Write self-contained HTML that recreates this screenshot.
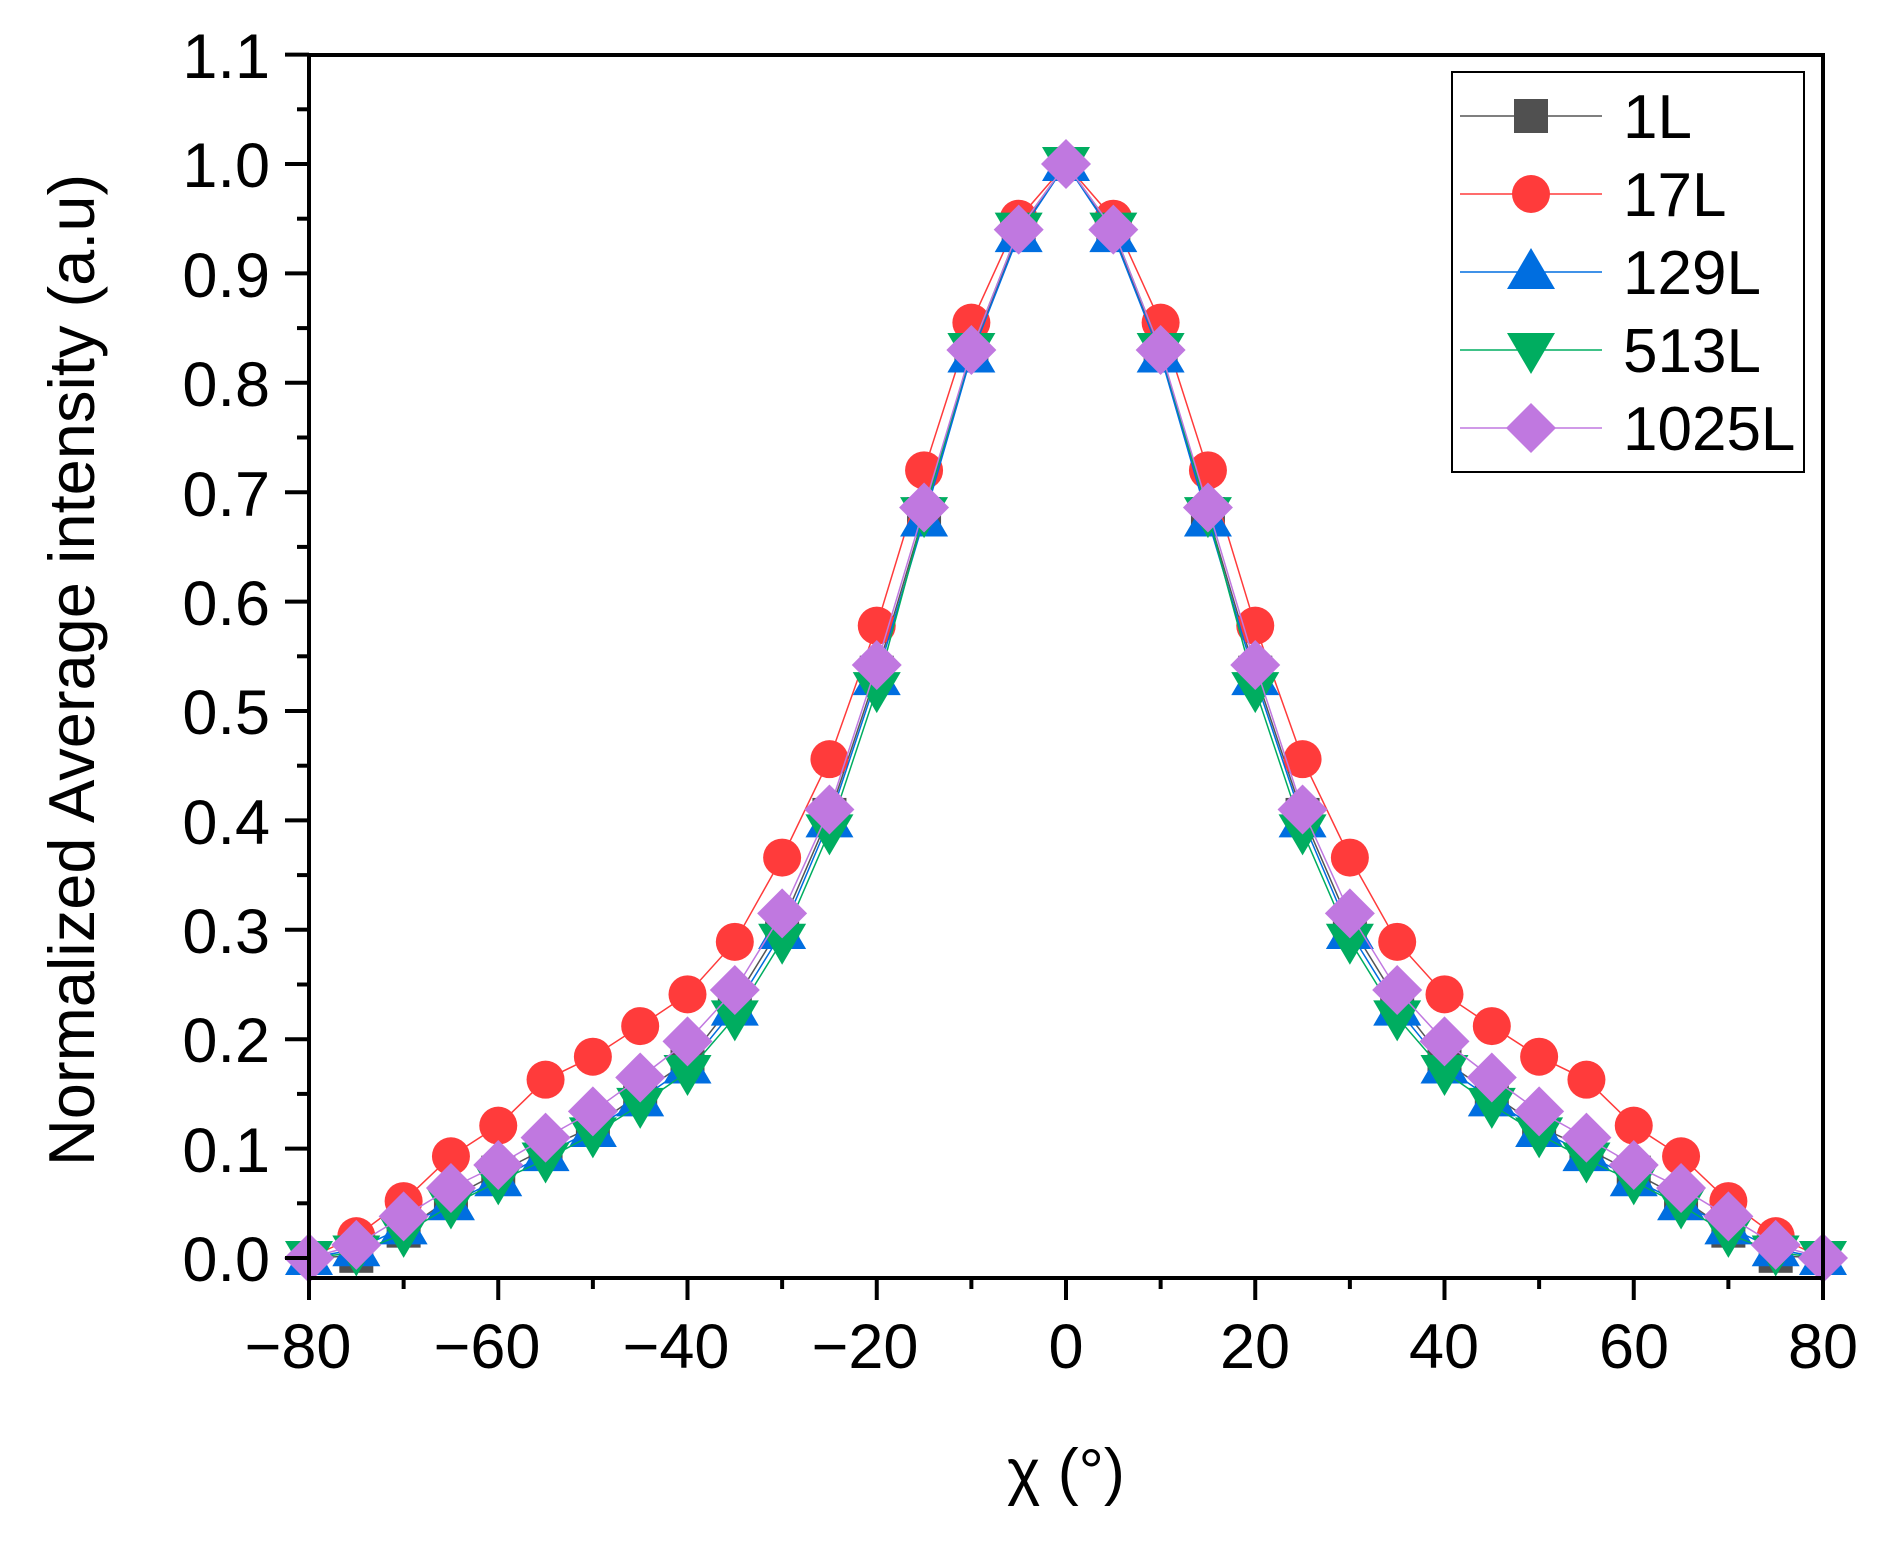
<!DOCTYPE html>
<html><head><meta charset="utf-8"><style>
html,body{margin:0;padding:0;background:#fff}
svg{display:block}
text{font-family:"Liberation Sans",Arial,sans-serif;fill:#000}
</style></head><body>
<svg id="s" width="1883" height="1541" viewBox="0 0 1883 1541" xmlns="http://www.w3.org/2000/svg">
<g id="data"></g>
<rect x="309" y="55" width="1514" height="1223" fill="none" stroke="#000" stroke-width="4"/>
<g id="ticks" stroke="#000" stroke-width="4"></g>
<g font-size="63" text-anchor="end">
<text x="270" y="78">1.1</text>
<text x="270" y="187">1.0</text>
<text x="270" y="297">0.9</text>
<text x="270" y="406">0.8</text>
<text x="270" y="516">0.7</text>
<text x="270" y="625">0.6</text>
<text x="270" y="734">0.5</text>
<text x="270" y="844">0.4</text>
<text x="270" y="953">0.3</text>
<text x="270" y="1062">0.2</text>
<text x="270" y="1172">0.1</text>
<text x="270" y="1281">0.0</text>
</g>
<g font-size="63" text-anchor="middle">
<text x="298" y="1368">−80</text>
<text x="487" y="1368">−60</text>
<text x="676" y="1368">−40</text>
<text x="865" y="1368">−20</text>
<text x="1066" y="1368">0</text>
<text x="1255" y="1368">20</text>
<text x="1444" y="1368">40</text>
<text x="1634" y="1368">60</text>
<text x="1823" y="1368">80</text>
</g>
<text x="1066" y="1493" font-size="63" text-anchor="middle">χ (°)</text>
<text transform="translate(94,670) rotate(-90)" font-size="65" text-anchor="middle">Normalized  Average intensity (a.u)</text>
<rect x="1452" y="72" width="352" height="400" fill="#fff" stroke="#000" stroke-width="2"/>
<g id="leg"></g>
<g font-size="62">
<text x="1623" y="138">1L</text>
<text x="1623" y="216">17L</text>
<text x="1623" y="294">129L</text>
<text x="1623" y="372">513L</text>
<text x="1623" y="450">1025L</text>
</g>
</svg>
<script>
var NS="http://www.w3.org/2000/svg";
function X(v){return 309+(v+80)*1514/160;}
function Y(v){return 1258-v*1094;}
function el(t,a,p){var e=document.createElementNS(NS,t);for(var k in a)e.setAttribute(k,a[k]);p.appendChild(e);return e;}
var tk=document.getElementById('ticks');
for(var i=0;i<=22;i++){var y=Y(i*0.05);el('line',{x1:i%2?297:285,x2:309,y1:y,y2:y},tk);}
for(var v=-80;v<=80;v+=10){var x=X(v);el('line',{x1:x,x2:x,y1:1278,y2:(v%20==0)?1300:1289},tk);}
var half={
 s1:[1,0.937,0.828,0.68,0.535,0.405,0.305,0.235,0.18,0.15,0.12,0.1,0.078,0.055,0.025,0.002,0],
 s17:[1,0.95,0.855,0.72,0.578,0.456,0.366,0.289,0.241,0.212,0.184,0.163,0.121,0.093,0.052,0.02,0],
 s129:[1,0.935,0.825,0.675,0.53,0.4,0.298,0.228,0.175,0.145,0.117,0.095,0.072,0.05,0.028,0.008,0],
 s513:[1,0.94,0.83,0.68,0.52,0.39,0.29,0.22,0.17,0.14,0.113,0.09,0.07,0.048,0.022,0.005,0],
 s1025:[1,0.94,0.83,0.686,0.542,0.41,0.315,0.245,0.198,0.165,0.134,0.11,0.085,0.064,0.038,0.012,0]
};
var series=[['s1','#505050','#555','sq'],['s17','#ff3b3b','#ff3b3b','ci'],['s129','#006ee0','#006ee0','up'],['s513','#00ad60','#00ad60','dn'],['s1025','#c078e0','#c078e0','di']];
function marker(type,x,y,c,g){
 if(type=='sq')el('rect',{x:x-17,y:y-17,width:34,height:34,fill:c},g);
 else if(type=='ci')el('circle',{cx:x,cy:y,r:19,fill:c},g);
 else if(type=='up')el('polygon',{points:(x)+','+(y-24)+' '+(x-24)+','+(y+17)+' '+(x+24)+','+(y+17),fill:c},g);
 else if(type=='dn')el('polygon',{points:(x)+','+(y+24)+' '+(x-24)+','+(y-17)+' '+(x+24)+','+(y-17),fill:c},g);
 else el('polygon',{points:x+','+(y-25)+' '+(x+25)+','+y+' '+x+','+(y+25)+' '+(x-25)+','+y,fill:c},g);
}
var g=document.getElementById('data');
series.forEach(function(s){
 var h=half[s[0]],pts=[];
 for(var v=-80;v<=80;v+=5){pts.push([X(v),Y(h[Math.abs(v)/5])]);}
 el('polyline',{points:pts.map(function(p){return p.join(',')}).join(' '),fill:'none',stroke:s[2],'stroke-width':1.5},g);
 pts.forEach(function(p){marker(s[3],p[0],p[1],s[1],g);});
});
var lg=document.getElementById('leg');
series.forEach(function(s,i){var y=116+i*78;el('line',{x1:1460,x2:1602,y1:y,y2:y,stroke:s[2],'stroke-width':1.5},lg);marker(s[3],1531,y,s[1],lg);});
</script>
</body></html>
